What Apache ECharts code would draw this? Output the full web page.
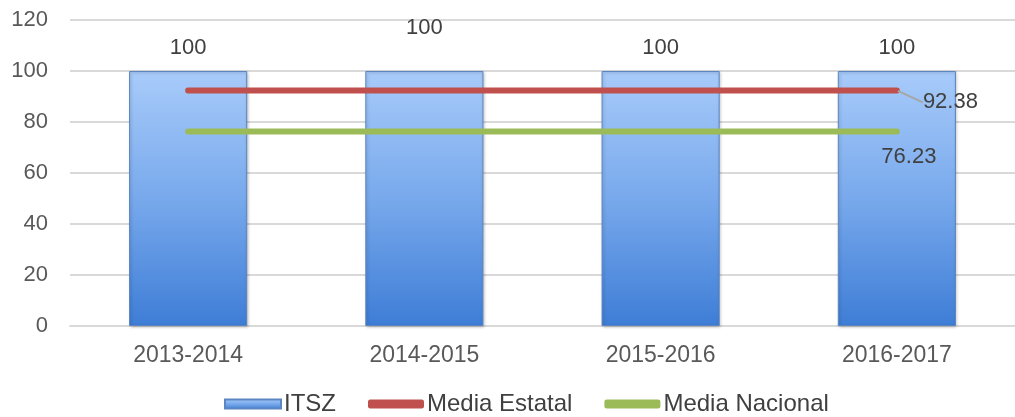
<!DOCTYPE html>
<html>
<head>
<meta charset="utf-8">
<script src="https://cdn.jsdelivr.net/npm/echarts@6/dist/echarts.min.js"></script>
<style>
html,body{margin:0;padding:0;background:#fff;}
#containerForm{width:1015px;height:417px;}
</style>
</head>
<body>
<div id="containerForm"></div>
<script>
var periodos = ['2013-2014', '2014-2015', '2015-2016', '2016-2017'];
var itszList = [100, 100, 100, 100];
var mediaEstatalList = [92.38, 92.38, 92.38, 92.38];
var mediaNacionalList = [76.23, 76.23, 76.23, 76.23];
var yTicks = [0, 20, 40, 60, 80, 100, 120];

var fuente = 'Liberation Sans, Arial, sans-serif';

//etiquetas de la barra: la segunda va mas arriba
var itszData = itszList.map(function(v, i){
	return {
		value: v,
		label: { offset: [0, i == 1 ? -27 : -7] }
	};
});

//solo el ultimo punto lleva etiqueta
function soloUltimo(lista, labelCfg){
	return lista.map(function(v, i){
		var item = { value: v, label: { show: false } };
		if (i == lista.length - 1) {
			item.label = labelCfg;
		}
		return item;
	});
}

var barGrad = new echarts.graphic.LinearGradient(0, 0, 0, 1, [
	{ offset: 0, color: '#a8cbfa' },
	{ offset: 0.5, color: '#78a9ec' },
	{ offset: 1, color: '#3e7dd6' }
]);

var myChart = echarts.init(document.getElementById('containerForm'));
var option = {
	animation: false,
	textStyle: { fontFamily: fuente },
	grid: { left: 70, right: -5, top: 20, bottom: 91 },
	legend: {
		bottom: 1,
		left: 224,
		padding: 0,
		itemWidth: 56,
		itemHeight: 9,
		itemGap: 32,
		textStyle: { fontSize: 24, color: '#404040', fontFamily: fuente, padding: [0, 0, 0, -2] },
		data: [
			{ name: 'ITSZ', icon: 'rect' },
			{ name: 'Media Estatal', icon: 'roundRect', itemStyle: { color: '#c0504d' } },
			{ name: 'Media Nacional', icon: 'roundRect', itemStyle: { color: '#9bbb59' } }
		]
	},
	xAxis: {
		type: 'category',
		data: periodos,
		axisLine: { lineStyle: { color: '#d9d9d9', width: 2 } },
		axisTick: { show: false },
		axisLabel: { fontSize: 23, color: '#595959', margin: 18 }
	},
	yAxis: {
		type: 'value',
		min: yTicks[0],
		max: yTicks[yTicks.length - 1],
		interval: 20,
		axisLine: { show: false },
		axisTick: { show: false },
		splitLine: { lineStyle: { color: '#d9d9d9', width: 2 } },
		axisLabel: { fontSize: 22, color: '#595959', margin: 22 }
	},
	series: [
		{
			name: 'ITSZ',
			type: 'bar',
			barWidth: '50%',
			data: itszData,
			itemStyle: {
				color: barGrad,
				borderColor: '#5b86c2',
				borderWidth: 1,
				shadowColor: 'rgba(0,0,0,0.25)',
				shadowBlur: 3,
				shadowOffsetX: 1,
				shadowOffsetY: 1
			},
			label: { show: true, position: 'top', fontSize: 22, color: '#404040' },
			z: 1
		},
		{
			name: 'Media Estatal',
			type: 'line',
			data: soloUltimo(mediaEstatalList, {
				show: true, position: 'right', fontSize: 22, color: '#404040'
			}),
			symbol: 'circle',
			symbolSize: 2,
			lineStyle: { color: '#c0504d', width: 6, cap: 'round' },
			itemStyle: { color: '#c0504d' },
			labelLayout: { dx: 20, dy: 12 },
			labelLine: { show: true, lineStyle: { color: '#a6a6a6', width: 2 } },
			z: 3
		},
		{
			name: 'Media Nacional',
			type: 'line',
			data: soloUltimo(mediaNacionalList, {
				show: true, position: 'bottom', fontSize: 22, color: '#404040', offset: [12, 8]
			}),
			symbol: 'circle',
			symbolSize: 2,
			lineStyle: { color: '#9bbb59', width: 6, cap: 'round' },
			itemStyle: { color: '#9bbb59' },
			z: 3
		}
	]
};
myChart.setOption(option, true);
</script>
</body>
</html>
